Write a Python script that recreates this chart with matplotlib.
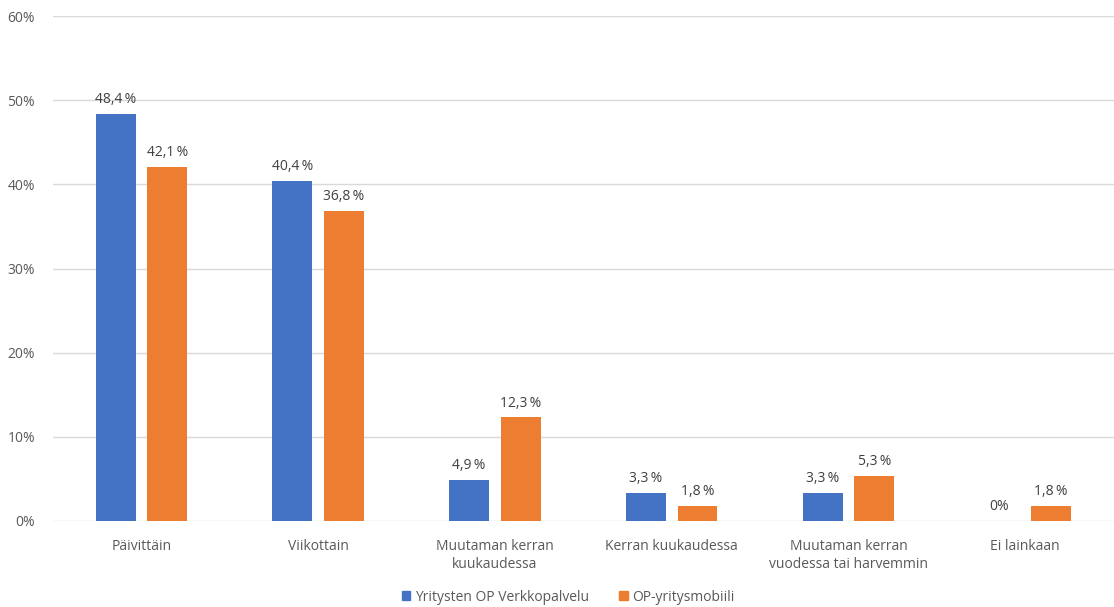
import matplotlib
matplotlib.use("Agg")
import matplotlib.pyplot as plt
import numpy as np
from matplotlib.patches import Patch

categories = ["Päivittäin", "Viikottain", "Muutaman kerran\nkuukaudessa",
              "Kerran kuukaudessa", "Muutaman kerran\nvuodessa tai harvemmin",
              "Ei lainkaan"]
verkkopalvelu = [48.4, 40.4, 4.9, 3.3, 3.3, 0.0]
mobiili = [42.1, 36.8, 12.3, 1.8, 5.3, 1.8]
series_names = ["Yritysten OP Verkkopalvelu", "OP-yritysmobiili"]
yticks = [0, 10, 20, 30, 40, 50, 60]

BLUE = "#4472C4"
ORANGE = "#ED7D31"
GREY = "#595959"
GRID = "#D9D9D9"

plt.rcParams["font.family"] = ["Open Sans", "DejaVu Sans"]

fig = plt.figure(figsize=(11.14, 6.07), dpi=100)
ax = fig.add_axes([0.0476, 0.1417, 0.952, 0.8319])

x = np.arange(len(categories))
w = 0.226
off = 0.146


def fmt(v):
    if v == 0:
        return "0%"
    return f"{v:.1f}".replace(".", ",") + "\u2009%"


for vals, color, dx in [(verkkopalvelu, BLUE, -off), (mobiili, ORANGE, off)]:
    bars = ax.bar(x + dx, vals, width=w, color=color, zorder=3)
    for b, v in zip(bars, vals):
        ax.annotate(fmt(v), (b.get_x() + b.get_width() / 2, v),
                    xytext=(0, 5), textcoords="offset points",
                    ha="center", va="bottom", fontsize=10, color="#404040")

ax.set_xlim(-0.5, len(categories) - 0.5)
ax.set_ylim(0, 60)
ax.set_yticks(yticks)
ax.set_yticklabels([f"{t}%" for t in yticks])
ax.set_xticks(x)
ax.set_xticklabels(categories, linespacing=1.3)
ax.tick_params(axis="both", length=0, colors=GREY, labelsize=10)
ax.tick_params(axis="y", pad=13)
ax.tick_params(axis="x", pad=13)
ax.yaxis.grid(True, color=GRID, linewidth=1)
ax.set_axisbelow(True)
for s in ax.spines.values():
    s.set_visible(False)

handles = [Patch(color=BLUE), Patch(color=ORANGE)]
fig.legend(handles, series_names, loc="center", bbox_to_anchor=(0.51, 0.016),
           ncol=2, frameon=False, fontsize=10, handlelength=0.6,
           handleheight=0.6, handletextpad=0.3, columnspacing=2.2,
           labelcolor=GREY)

fig.savefig("out.png", dpi=100)
